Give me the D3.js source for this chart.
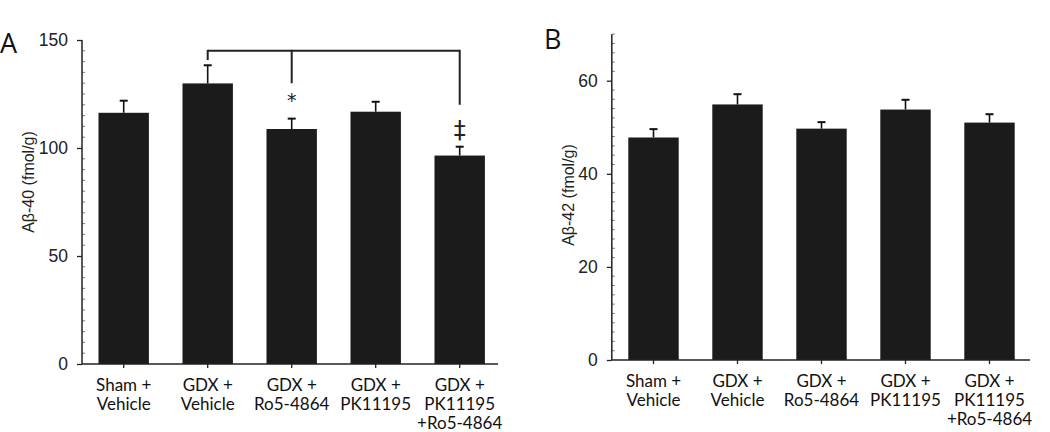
<!DOCTYPE html>
<html><head><meta charset="utf-8">
<script src="https://cdn.jsdelivr.net/npm/d3@7"></script>
<style>
html,body{margin:0;padding:0;background:#fff;}
svg{display:block;}
</style></head>
<body>
<svg id="chart" width="1050" height="432"></svg>
<script>
// ---- data ----
const categories = [["Sham +","Vehicle"],["GDX +","Vehicle"],["GDX +","Ro5-4864"],["GDX +","PK11195"],["GDX +","PK11195","+Ro5-4864"]];
const abeta40 = [116.3, 129.9, 108.8, 116.8, 96.5];
const abeta40Err = [5.6, 8.4, 4.8, 4.6, 4.1];
const abeta42 = [47.8, 54.9, 49.7, 53.8, 51.0];
const abeta42Err = [1.8, 2.2, 1.4, 2.1, 1.8];
const ticksA = [0, 50, 100, 150];
const ticksB = [0, 20, 40, 60];
// significance bracket (panel A): from group 1 to groups 2 and 4
const bracketLevel = 145;
const bracketDrops = [[1, 140.7], [2, 130], [4, 120]];
const markers = [[2, "*", 122], [4, "‡", 108.5]];

const svg = d3.select("#chart");
const idx = d3.range(categories.length);

function panel(cfg) {
  const g = svg.append("g");
  const x = d3.scaleBand().domain(idx).range(cfg.xr).paddingInner(0.4).paddingOuter(0.2);
  const y = d3.scaleLinear().domain(cfg.yd).range(cfg.yr);
  const ax = cfg.xr[0] + 0.3;

  // bars
  g.selectAll("rect.bar").data(idx).join("rect")
    .attr("x", i => x(i)).attr("width", x.bandwidth())
    .attr("y", i => y(cfg.vals[i])).attr("height", i => y(0) - y(cfg.vals[i]))
    .attr("fill", "#1b1b1b");

  // error bars
  g.selectAll("line.err").data(idx).join("line")
    .attr("x1", i => x(i) + x.bandwidth()/2).attr("x2", i => x(i) + x.bandwidth()/2)
    .attr("y1", i => y(cfg.vals[i])).attr("y2", i => y(cfg.vals[i] + cfg.errs[i]))
    .attr("stroke", "#111").attr("stroke-width", 1.6);
  g.selectAll("line.cap").data(idx).join("line")
    .attr("x1", i => x(i) + x.bandwidth()/2 - 4).attr("x2", i => x(i) + x.bandwidth()/2 + 4)
    .attr("y1", i => y(cfg.vals[i] + cfg.errs[i])).attr("y2", i => y(cfg.vals[i] + cfg.errs[i]))
    .attr("stroke", "#111").attr("stroke-width", 2);

  // y axis: major ticks outward
  const yAxis = d3.axisLeft(y).tickValues(cfg.ticks).tickSize(5).tickPadding(9).tickFormat(d3.format("d"));
  const ya = g.append("g").attr("transform", `translate(${ax},0)`).call(yAxis);
  ya.select(".domain").remove();
  ya.selectAll("line").attr("stroke", "#222").attr("stroke-width", 1.3);
  ya.selectAll("text").attr("font-family", "Liberation Sans, Arial, sans-serif").attr("font-size", 17.5).attr("fill", "#222");
  // minor ticks inward
  const minor = d3.range(cfg.yd[0], cfg.yd[1] + 0.001, cfg.minorStep).filter(v => !cfg.ticks.includes(v));
  g.selectAll("line.minor").data(minor).join("line")
    .attr("x1", ax).attr("x2", ax + 3)
    .attr("y1", d => y(d)).attr("y2", d => y(d))
    .attr("stroke", "#555").attr("stroke-width", 0.8);
  // axis lines
  g.append("line").attr("x1", ax).attr("x2", ax).attr("y1", y(cfg.yd[1])).attr("y2", y(0))
    .attr("stroke", "#222").attr("stroke-width", 1.5);
  g.append("line").attr("x1", ax).attr("x2", cfg.xEnd).attr("y1", y(0)).attr("y2", y(0))
    .attr("stroke", "#222").attr("stroke-width", 1.5);
  // x ticks
  g.selectAll("line.xt").data(idx).join("line")
    .attr("x1", i => x(i) + x.bandwidth()/2).attr("x2", i => x(i) + x.bandwidth()/2)
    .attr("y1", y(0)).attr("y2", y(0) + 4)
    .attr("stroke", "#222").attr("stroke-width", 1.3);
  // x labels
  idx.forEach(i => {
    const t = g.append("text").attr("text-anchor", "middle")
      .attr("font-family", "Lato, sans-serif").attr("font-size", 17).attr("fill", "#111");
    categories[i].forEach((ln, k) => {
      t.append("tspan").attr("x", x(i) + x.bandwidth()/2).attr("y", y(0) + 27 + k*19).text(ln);
    });
  });
  // y title
  g.append("text").attr("transform", `translate(${cfg.titleX},${cfg.titleY}) rotate(-90)`)
    .attr("text-anchor", "middle").attr("font-family", "Liberation Sans, Arial, sans-serif")
    .attr("font-size", 16).attr("fill", "#222").text(cfg.title);
  // panel letter
  g.append("text").attr("x", cfg.letterX).attr("y", cfg.letterY)
    .attr("font-family", "Open Sans, sans-serif").attr("font-size", 27).attr("fill", "#111").text(cfg.letter);
  return {g, x, y};
}

const A = panel({xr: [81.7, 501.7], yd: [0, 150], yr: [364, 40], vals: abeta40, errs: abeta40Err,
  ticks: ticksA, minorStep: 5, xEnd: 498, title: "Aβ-40 (fmol/g)", titleX: 34, titleY: 182,
  letter: "A", letterX: 0, letterY: 53});
const B = panel({xr: [611.5, 1031.5], yd: [0, 70], yr: [360, 360 - 70*4.655], vals: abeta42, errs: abeta42Err,
  ticks: ticksB, minorStep: 2, xEnd: 1030, title: "Aβ-42 (fmol/g)", titleX: 574, titleY: 195,
  letter: "B", letterX: 544, letterY: 49});

// bracket on panel A
const cx = i => A.x(i) + A.x.bandwidth()/2;
A.g.append("line").attr("x1", cx(bracketDrops[0][0])).attr("x2", cx(bracketDrops[2][0]))
  .attr("y1", A.y(bracketLevel)).attr("y2", A.y(bracketLevel))
  .attr("stroke", "#222").attr("stroke-width", 2);
A.g.selectAll("line.drop").data(bracketDrops).join("line")
  .attr("x1", d => cx(d[0])).attr("x2", d => cx(d[0]))
  .attr("y1", A.y(bracketLevel) - 1).attr("y2", d => A.y(d[1]))
  .attr("stroke", "#222").attr("stroke-width", 2);
A.g.selectAll("text.mark").data(markers).join("text")
  .attr("x", d => cx(d[0])).attr("y", d => A.y(d[2]))
  .attr("text-anchor", "middle").attr("dominant-baseline", "central")
  .attr("font-family", "DejaVu Sans, sans-serif").attr("font-size", d => d[1] === "*" ? 19 : 24)
  .attr("fill", "#222").text(d => d[1]);
</script>
</body></html>
